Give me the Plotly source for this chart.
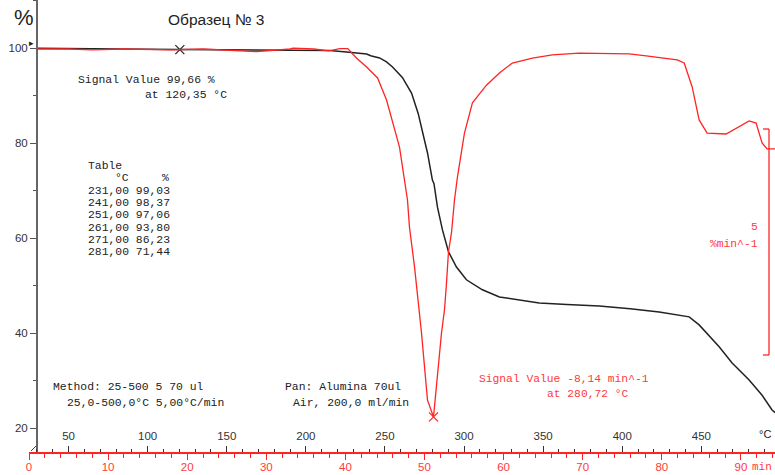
import plotly.graph_objects as go

# ---------------- data ----------------
# TG curve (mass %, black) vs time (min)
tg_time = [1.0, 5.0, 10.0, 15.0, 19.07, 25.0, 30.0, 35.0, 38.0, 40.15, 41.2, 42.68, 43.2,
           44.32, 45.2, 45.96, 47.2, 48.36, 49.2, 49.62, 50.38, 51.0, 51.2, 51.64, 52.27,
           53.03, 54.04, 55.3, 57.32, 59.47, 61.99, 64.5, 68.0, 72.1, 76.0, 79.67, 83.46,
           84.72, 87.25, 88.89, 91.04, 92.68, 93.94, 95.0]
tg_mass = [99.95, 99.85, 99.7, 99.72, 99.66, 99.6, 99.55, 99.5, 99.45, 99.16, 99.03, 98.74, 98.37,
           97.9, 97.06, 96.0, 93.8, 90.5, 86.23, 83.3, 77.9, 72.2, 71.44, 66.5, 61.7,
           57.1, 53.9, 51.2, 49.1, 47.6, 46.9, 46.3, 46.0, 45.7, 45.1, 44.4, 43.4,
           41.7, 37.1, 33.7, 30.1, 26.9, 23.8, 22.3]

# DTG curve (%/min, red) vs time (min)
dtg_time = [1.0, 5.0, 8.0, 12.0, 18.0, 22.0, 28.8, 31.0, 33.0, 33.4, 36.0, 37.9, 39.3, 40.3,
            41.4, 42.68, 44.07, 45.2, 46.2, 46.84, 47.85, 48.1, 48.74, 49.37, 49.62, 50.38,
            51.14, 52.15, 52.53, 52.78, 53.03, 53.41, 53.79, 54.17, 55.05, 56.06, 57.83,
            59.47, 61.1, 63.64, 66.16, 69.57, 73.74, 75.88, 78.03, 81.94, 82.83, 83.84,
            84.72, 85.73, 88.13, 91.04, 91.92, 92.68, 93.31, 94.4]
dtg_rate = [0.0, 0.0, -0.02, 0.0, -0.02, 0.0, -0.06, -0.03, 0.0, 0.02, 0.0, -0.04, 0.01, 0.01,
            -0.2, -0.4, -0.64, -1.13, -1.75, -2.17, -3.34, -3.94, -4.82, -5.77, -6.28, -7.77,
            -8.14, -6.28, -5.77, -5.18, -4.49, -4.07, -3.34, -2.83, -1.86, -1.19, -0.8,
            -0.53, -0.31, -0.2, -0.13, -0.09, -0.11, -0.11, -0.15, -0.24, -0.31, -0.84,
            -1.57, -1.86, -1.88, -1.59, -1.64, -2.08, -2.21, -2.21]

# marked signal values
tg_mark = (19.07, 99.66)
dtg_mark = (51.14, -8.14)

table_rows = ["231,00 99,03", "241,00 98,37", "251,00 97,06",
              "261,00 93,80", "271,00 86,23", "281,00 71,44"]

dtg_scale_top = -1.77
dtg_scale_len = 5

# ---------------- layout helpers ----------------
W, H = 775, 475
L, B = 29, 23
PW, PH = W - L, H - B
PXMIN = 7.91          # px per minute
T_MAX = PW / PXMIN
PX_PCT = 4.75         # px per % mass
Y_TOP = 100 + 48 / PX_PCT
Y_BOT = 100 - (PH - 48) / PX_PCT
PX_DTG = 45.2
D_TOP = 49 / PX_DTG
D_BOT = -(PH - 49) / PX_DTG


def fx(px):
    return (px - L) / PW


def fy(py):
    return (PH - py) / PH


RED = "#ff2424"
RED_T = "#ff3a3a"
BLK = "#222222"
MONO = "Liberation Mono"
SANS = "Liberation Sans"

fig = go.Figure()

# empty trace so the temperature axis is rendered
fig.add_trace(go.Scatter(x=[25, 25 + 5 * T_MAX], y=[None, None], mode="lines",
                         xaxis="x2", yaxis="y", showlegend=False, hoverinfo="skip"))
fig.add_trace(go.Scatter(x=tg_time, y=tg_mass, mode="lines",
                         line=dict(color=BLK, width=1.5), xaxis="x", yaxis="y",
                         showlegend=False, hoverinfo="skip"))
fig.add_trace(go.Scatter(x=dtg_time, y=dtg_rate, mode="lines",
                         line=dict(color=RED, width=1.3), xaxis="x", yaxis="y2",
                         showlegend=False, hoverinfo="skip"))
fig.add_trace(go.Scatter(x=[tg_mark[0]], y=[tg_mark[1]], mode="markers",
                         marker=dict(symbol="x-thin", size=9, line=dict(color=BLK, width=1.2)),
                         xaxis="x", yaxis="y", showlegend=False, hoverinfo="skip"))
fig.add_trace(go.Scatter(x=[dtg_mark[0]], y=[dtg_mark[1]], mode="markers",
                         marker=dict(symbol="x-thin", size=9, line=dict(color=RED, width=1.2)),
                         xaxis="x", yaxis="y2", showlegend=False, hoverinfo="skip"))

annotations = []


def txt(s, px, py, color=BLK, size=11.4, family=MONO, anchor="left"):
    annotations.append(dict(text=s, x=fx(px), y=fy(py), xref="paper", yref="paper",
                            xanchor=anchor, yanchor="middle", showarrow=False,
                            font=dict(family=family, size=size, color=color)))


txt("%", 24, 18, color=BLK, size=22, family=SANS, anchor="center")
txt("Образец № 3", 216, 20, color=BLK, size=15.5, family=SANS, anchor="center")
txt("Signal Value 99,66 %", 76, 80)
txt("at 120,35 °C", 143, 95)
txt("Table", 86, 166)
txt("°C", 113, 178)
txt("%", 160, 178)
for i, row in enumerate(table_rows):
    txt(row, 86, 191 + i * 12.2)
txt("Method: 25-500 5 70 ul", 51, 387)
txt("25,0-500,0°C 5,00°C/min", 65, 403)
txt("Pan: Alumina 70ul", 283, 387)
txt("Air, 200,0 ml/min", 291, 403)
txt("Signal Value -8,14 min^-1", 477, 379, color=RED_T, size=11.3)
txt("at 280,72 °C", 545, 394, color=RED_T, size=11.3)
txt("5", 760, 227, color=RED_T, size=11.3, anchor="right")
txt("%min^-1", 760, 244, color=RED_T, size=11.3, anchor="right")
txt("°C", 773, 434, color=BLK, size=11, family=SANS, anchor="right")
txt("min", 774, 467, color=RED_T, size=11, family=MONO, anchor="right")

shapes = [
    # DTG scale bar (5 %/min)
    dict(type="line", xref="paper", yref="y2", x0=fx(769), x1=fx(769),
         y0=dtg_scale_top, y1=dtg_scale_top - dtg_scale_len, line=dict(color=RED, width=1.3)),
    dict(type="line", xref="paper", yref="y2", x0=fx(763), x1=fx(769),
         y0=dtg_scale_top, y1=dtg_scale_top, line=dict(color=RED, width=1.3)),
    dict(type="line", xref="paper", yref="y2", x0=fx(763), x1=fx(769),
         y0=dtg_scale_top - dtg_scale_len, y1=dtg_scale_top - dtg_scale_len,
         line=dict(color=RED, width=1.3)),
    # little axis break mark
    dict(type="line", xref="paper", yref="paper", x0=fx(31), x1=fx(36),
         y0=fy(451), y1=fy(446), line=dict(color="#444", width=1)),
]

annotations.append(dict(text="▸", x=fx(31), y=fy(43), xref="paper", yref="paper",
                        xanchor="center", yanchor="middle", showarrow=False,
                        font=dict(family="DejaVu Sans", size=9, color=BLK)))

fig.update_layout(
    width=W, height=H,
    margin=dict(l=L, r=0, t=0, b=B, pad=0, autoexpand=False),
    paper_bgcolor="white", plot_bgcolor="white",
    showlegend=False,
    xaxis=dict(range=[0, T_MAX], domain=[0, 1], anchor="y", automargin=False,
               showgrid=False, zeroline=False,
               showline=True, linecolor=RED, linewidth=1.5,
               ticks="outside", ticklen=6, tickwidth=1, tickcolor=RED,
               tick0=0, dtick=10,
               minor=dict(ticks="outside", ticklen=4, tickcolor=RED, dtick=2, tick0=0),
               tickfont=dict(family=SANS, size=11.5, color=RED_T),
               ticklabelstandoff=-3),
    xaxis2=dict(range=[25, 25 + 5 * T_MAX], overlaying="x", anchor="y", side="bottom",
                automargin=False,
                showgrid=False, zeroline=False, showline=False,
                ticks="inside", ticklen=6, tickwidth=1, tickcolor="#333",
                tick0=0, dtick=50,
                minor=dict(ticks="inside", ticklen=3, tickcolor="#333", dtick=10, tick0=0),
                ticklabelposition="inside", ticklabelstandoff=3,
                tickfont=dict(family=SANS, size=11.5, color="#333")),
    yaxis=dict(range=[Y_BOT, Y_TOP], anchor="free", position=fx(37), automargin=False,
               showgrid=False, zeroline=False,
               showline=True, linecolor="#666", linewidth=2,
               ticks="outside", ticklen=6, tickwidth=1, tickcolor="#555",
               tick0=0, dtick=20,
               minor=dict(ticks="outside", ticklen=3, tickcolor="#555", dtick=10, tick0=0),
               tickfont=dict(family=SANS, size=11.5, color="#333")),
    yaxis2=dict(range=[D_BOT, D_TOP], overlaying="y", anchor="x", visible=False),
    annotations=annotations,
    shapes=shapes,
)

fig.write_html("out.html", config={"displayModeBar": False},
               post_script="document.body.style.margin='0';document.body.style.overflow='hidden';")
